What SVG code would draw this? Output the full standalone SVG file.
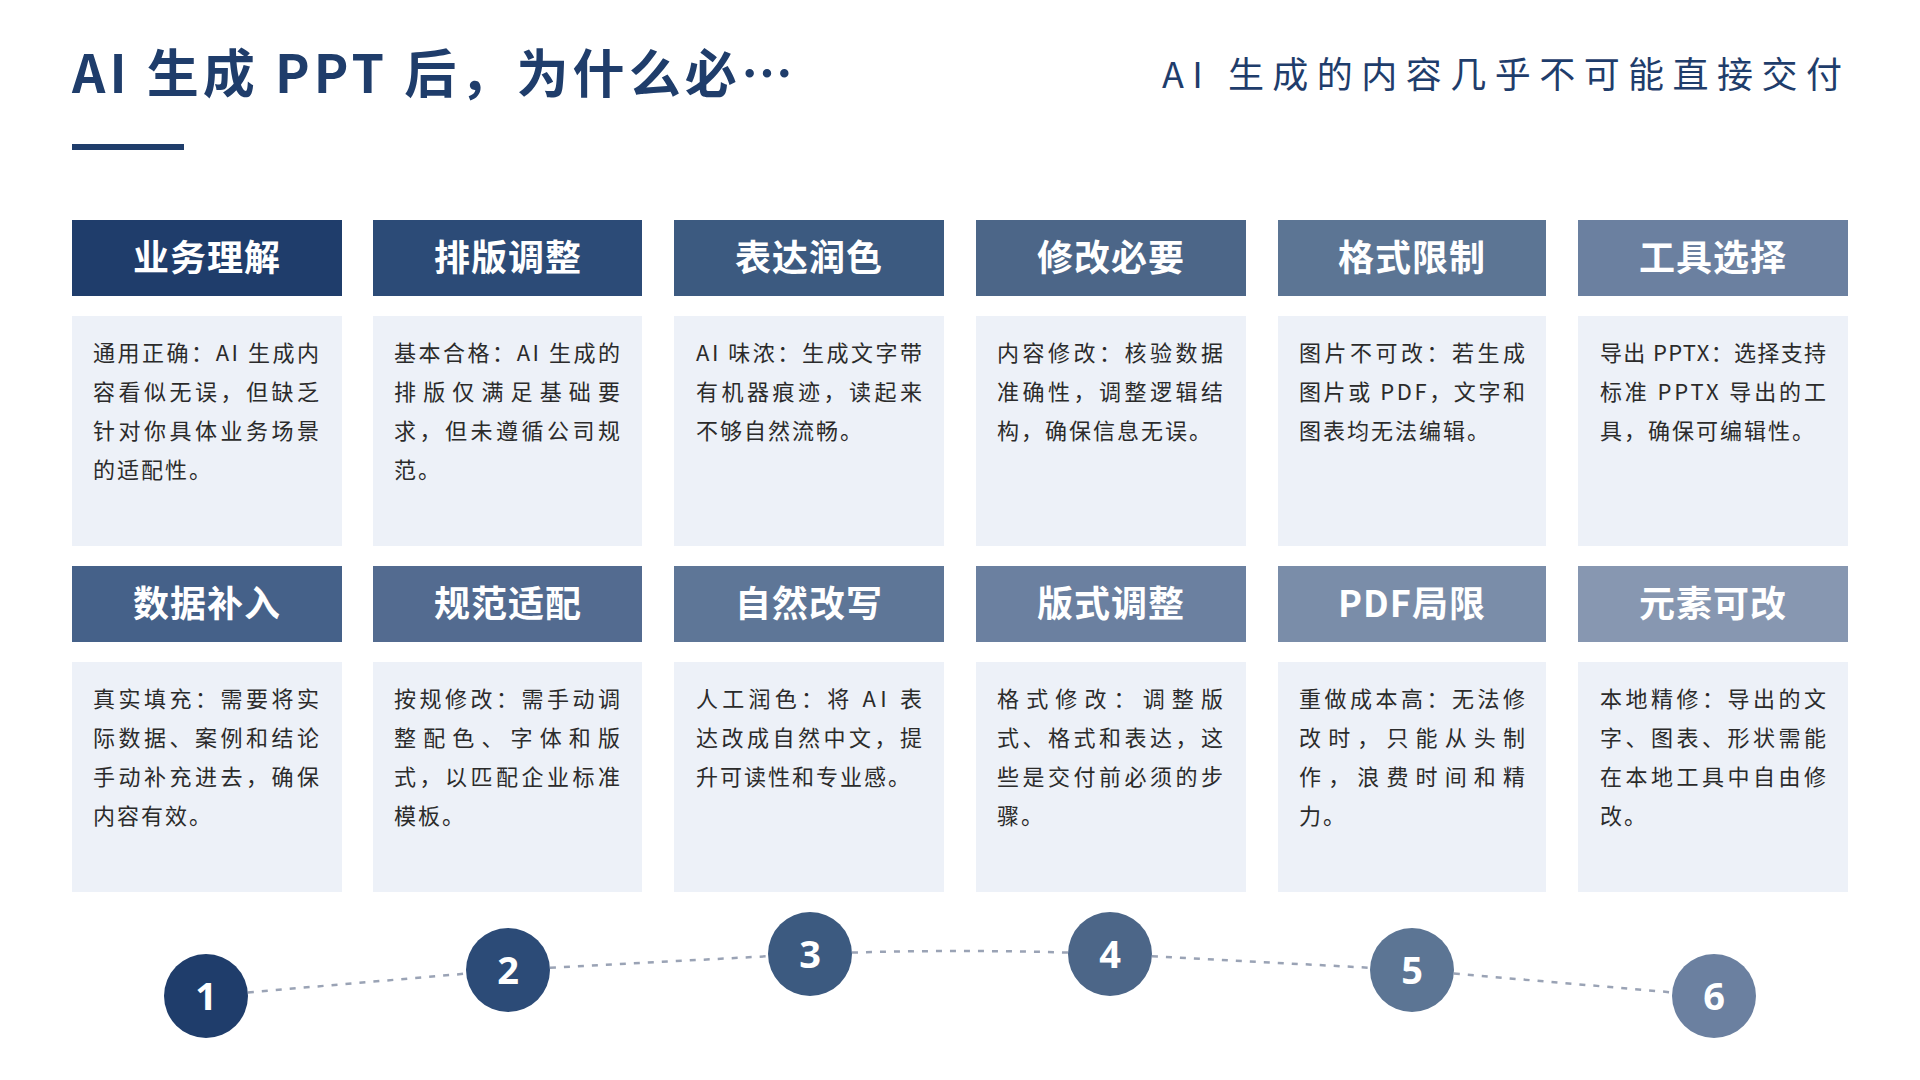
<svg xmlns="http://www.w3.org/2000/svg" width="1920" height="1080" viewBox="0 0 1920 1080">
<style>
.title{font-family:"Noto Sans CJK SC","Noto Sans",sans-serif;font-weight:700;font-size:52px;fill:#1f3d6b}
.sub{font-family:"Noto Sans CJK SC","Noto Sans",sans-serif;font-weight:400;font-size:36px;fill:#1f3d6b}
.hd{font-family:"Noto Sans CJK SC","Noto Sans",sans-serif;font-weight:700;font-size:36px;fill:#ffffff;text-anchor:middle;letter-spacing:1px}
.bd{fill:#edf1f8}
.tx{font-family:"Noto Sans CJK SC","Noto Sans",sans-serif;font-size:22px;fill:#2b2b2b;letter-spacing:2px}
.num{font-family:"Noto Sans","Noto Sans CJK SC",sans-serif;font-weight:700;font-size:38px;fill:#ffffff;text-anchor:middle}
.dash{stroke:#9aa3b5;stroke-width:2.5;stroke-dasharray:6 8;fill:none}
</style>
<rect width="1920" height="1080" fill="#ffffff"/>
<g id="title">
<text class="title" x="72" y="93" textLength="721" lengthAdjust="spacing">AI 生成 PPT 后，为什么必…</text>
<rect x="72" y="144" width="112" height="6" fill="#1f3d6b"/>
</g>
<g id="subtitle">
<text class="sub" x="1162" y="88" textLength="680" lengthAdjust="spacing">AI 生成的内容几乎不可能直接交付</text>
</g>

<!-- Row 1 -->
<g id="card-1">
<rect x="72" y="220" width="270" height="76" fill="#1f3d6b"/>
<text class="hd" x="207" y="271">业务理解</text>
<rect class="bd" x="72" y="316" width="270" height="230"/>
<text class="tx" x="93" y="361" textLength="228" lengthAdjust="spacing">通用正确：AI 生成内</text>
<text class="tx" x="93" y="400" textLength="228" lengthAdjust="spacing">容看似无误，但缺乏</text>
<text class="tx" x="93" y="439" textLength="228" lengthAdjust="spacing">针对你具体业务场景</text>
<text class="tx" x="93" y="478">的适配性。</text>
</g>
<g id="card-2">
<rect x="373" y="220" width="269" height="76" fill="#2c4b77"/>
<text class="hd" x="508" y="271">排版调整</text>
<rect class="bd" x="373" y="316" width="269" height="230"/>
<text class="tx" x="394" y="361" textLength="228" lengthAdjust="spacing">基本合格：AI 生成的</text>
<text class="tx" x="394" y="400" textLength="228" lengthAdjust="spacing">排版仅满足基础要</text>
<text class="tx" x="394" y="439" textLength="228" lengthAdjust="spacing">求，但未遵循公司规</text>
<text class="tx" x="394" y="478">范。</text>
</g>
<g id="card-3">
<rect x="674" y="220" width="270" height="76" fill="#3c5a80"/>
<text class="hd" x="809" y="271">表达润色</text>
<rect class="bd" x="674" y="316" width="270" height="230"/>
<text class="tx" x="696" y="361" textLength="228" lengthAdjust="spacing">AI 味浓：生成文字带</text>
<text class="tx" x="696" y="400" textLength="228" lengthAdjust="spacing">有机器痕迹，读起来</text>
<text class="tx" x="696" y="439">不够自然流畅。</text>
</g>
<g id="card-4">
<rect x="976" y="220" width="270" height="76" fill="#4c6688"/>
<text class="hd" x="1111" y="271">修改必要</text>
<rect class="bd" x="976" y="316" width="270" height="230"/>
<text class="tx" x="997" y="361" textLength="228" lengthAdjust="spacing">内容修改：核验数据</text>
<text class="tx" x="997" y="400" textLength="228" lengthAdjust="spacing">准确性，调整逻辑结</text>
<text class="tx" x="997" y="439">构，确保信息无误。</text>
</g>
<g id="card-5">
<rect x="1278" y="220" width="268" height="76" fill="#5c7594"/>
<text class="hd" x="1412" y="271">格式限制</text>
<rect class="bd" x="1278" y="316" width="268" height="230"/>
<text class="tx" x="1299" y="361" textLength="228" lengthAdjust="spacing">图片不可改：若生成</text>
<text class="tx" x="1299" y="400" textLength="228" lengthAdjust="spacing">图片或 PDF，文字和</text>
<text class="tx" x="1299" y="439">图表均无法编辑。</text>
</g>
<g id="card-6">
<rect x="1578" y="220" width="270" height="76" fill="#6b80a0"/>
<text class="hd" x="1713" y="271">工具选择</text>
<rect class="bd" x="1578" y="316" width="270" height="230"/>
<text class="tx" x="1600" y="361" textLength="228" lengthAdjust="spacing">导出 PPTX：选择支持</text>
<text class="tx" x="1600" y="400" textLength="228" lengthAdjust="spacing">标准 PPTX 导出的工</text>
<text class="tx" x="1600" y="439">具，确保可编辑性。</text>
</g>

<!-- Row 2 -->
<g id="card-7">
<rect x="72" y="566" width="270" height="76" fill="#456189"/>
<text class="hd" x="207" y="617">数据补入</text>
<rect class="bd" x="72" y="662" width="270" height="230"/>
<text class="tx" x="93" y="707" textLength="228" lengthAdjust="spacing">真实填充：需要将实</text>
<text class="tx" x="93" y="746" textLength="228" lengthAdjust="spacing">际数据、案例和结论</text>
<text class="tx" x="93" y="785" textLength="228" lengthAdjust="spacing">手动补充进去，确保</text>
<text class="tx" x="93" y="824">内容有效。</text>
</g>
<g id="card-8">
<rect x="373" y="566" width="269" height="76" fill="#536b90"/>
<text class="hd" x="508" y="617">规范适配</text>
<rect class="bd" x="373" y="662" width="269" height="230"/>
<text class="tx" x="394" y="707" textLength="228" lengthAdjust="spacing">按规修改：需手动调</text>
<text class="tx" x="394" y="746" textLength="228" lengthAdjust="spacing">整配色、字体和版</text>
<text class="tx" x="394" y="785" textLength="228" lengthAdjust="spacing">式，以匹配企业标准</text>
<text class="tx" x="394" y="824">模板。</text>
</g>
<g id="card-9">
<rect x="674" y="566" width="270" height="76" fill="#5e7697"/>
<text class="hd" x="809" y="617">自然改写</text>
<rect class="bd" x="674" y="662" width="270" height="230"/>
<text class="tx" x="696" y="707" textLength="228" lengthAdjust="spacing">人工润色：将 AI 表</text>
<text class="tx" x="696" y="746" textLength="228" lengthAdjust="spacing">达改成自然中文，提</text>
<text class="tx" x="696" y="785">升可读性和专业感。</text>
</g>
<g id="card-10">
<rect x="976" y="566" width="270" height="76" fill="#6b80a0"/>
<text class="hd" x="1111" y="617">版式调整</text>
<rect class="bd" x="976" y="662" width="270" height="230"/>
<text class="tx" x="997" y="707" textLength="228" lengthAdjust="spacing">格式修改：调整版</text>
<text class="tx" x="997" y="746" textLength="228" lengthAdjust="spacing">式、格式和表达，这</text>
<text class="tx" x="997" y="785" textLength="228" lengthAdjust="spacing">些是交付前必须的步</text>
<text class="tx" x="997" y="824">骤。</text>
</g>
<g id="card-11">
<rect x="1278" y="566" width="268" height="76" fill="#7a8da9"/>
<text class="hd" x="1412" y="617">PDF局限</text>
<rect class="bd" x="1278" y="662" width="268" height="230"/>
<text class="tx" x="1299" y="707" textLength="228" lengthAdjust="spacing">重做成本高：无法修</text>
<text class="tx" x="1299" y="746" textLength="228" lengthAdjust="spacing">改时，只能从头制</text>
<text class="tx" x="1299" y="785" textLength="228" lengthAdjust="spacing">作，浪费时间和精</text>
<text class="tx" x="1299" y="824">力。</text>
</g>
<g id="card-12">
<rect x="1578" y="566" width="270" height="76" fill="#8797b1"/>
<text class="hd" x="1713" y="617">元素可改</text>
<rect class="bd" x="1578" y="662" width="270" height="230"/>
<text class="tx" x="1600" y="707" textLength="228" lengthAdjust="spacing">本地精修：导出的文</text>
<text class="tx" x="1600" y="746" textLength="228" lengthAdjust="spacing">字、图表、形状需能</text>
<text class="tx" x="1600" y="785" textLength="228" lengthAdjust="spacing">在本地工具中自由修</text>
<text class="tx" x="1600" y="824">改。</text>
</g>

<!-- Connectors -->
<g id="connectors">
<line class="dash" x1="206" y1="996" x2="508" y2="970"/>
<line class="dash" x1="508" y1="970" x2="810" y2="954"/>
<path class="dash" d="M810 954 Q960 948 1110 954"/>
<line class="dash" x1="1110" y1="954" x2="1412" y2="970"/>
<line class="dash" x1="1412" y1="970" x2="1714" y2="996"/>
</g>

<!-- Step circles -->
<g id="step-1"><circle cx="206" cy="996" r="42" fill="#1f3d6b"/><text class="num" x="206" y="1010">1</text></g>
<g id="step-2"><circle cx="508" cy="970" r="42" fill="#2c4b77"/><text class="num" x="508" y="984">2</text></g>
<g id="step-3"><circle cx="810" cy="954" r="42" fill="#3c5a80"/><text class="num" x="810" y="968">3</text></g>
<g id="step-4"><circle cx="1110" cy="954" r="42" fill="#4c6688"/><text class="num" x="1110" y="968">4</text></g>
<g id="step-5"><circle cx="1412" cy="970" r="42" fill="#5c7594"/><text class="num" x="1412" y="984">5</text></g>
<g id="step-6"><circle cx="1714" cy="996" r="42" fill="#6b80a0"/><text class="num" x="1714" y="1010">6</text></g>
</svg>
